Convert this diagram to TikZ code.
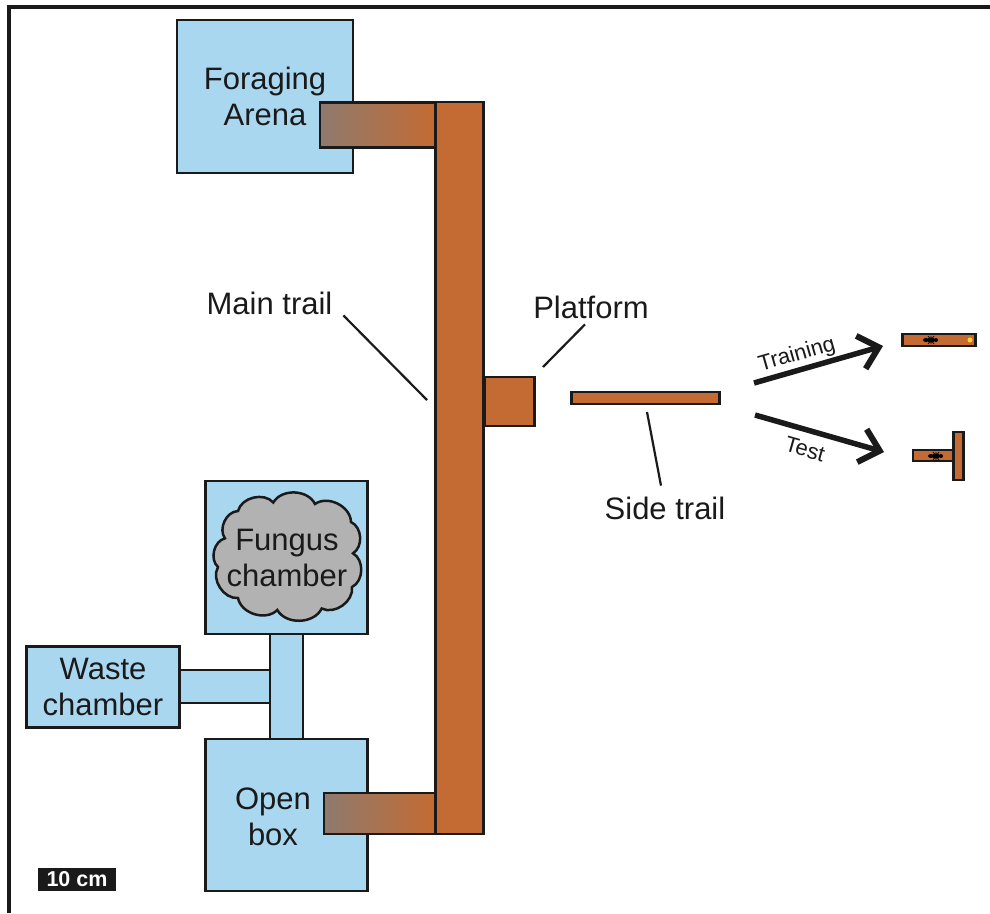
\documentclass[tikz,border=0pt]{standalone}
\usepackage{fontspec}
\setmainfont{Liberation Sans}
\usetikzlibrary{arrows.meta}
\definecolor{arInk}{HTML}{1A1A1A}
\definecolor{arBlue}{HTML}{AAD7F0}
\definecolor{arTrail}{HTML}{C46B33}
\definecolor{arFade}{HTML}{8E7A6E}
\definecolor{arGrey}{HTML}{B2B2B2}
\definecolor{arBait}{HTML}{F5D232}
\tikzset{
  box/.style={
    draw=arInk, line width=2.6pt, fill=arBlue, inner sep=0pt, outer sep=0pt,
    align=center, text=arInk, font=\fontsize{31}{36}\selectfont
  },
  trail/.style={box, fill=arTrail},
  fadetrail/.style={box, left color=arFade, right color=arTrail},
  lbl/.style={inner sep=0pt, outer sep=0pt, align=center, text=arInk,
    font=\fontsize{31}{36}\selectfont},
  small/.style={lbl, font=\fontsize{22}{26}\selectfont},
  leader/.style={line width=2.2pt, draw=arInk},
  flow/.style={-{Straight Barb[length=6.5mm, width=12mm, line width=6pt]}, line width=5.5pt, draw=arInk},
  puff/.style={bend left=62},
}
\newcommand{\antmark}[1]{%
  \begin{scope}[shift={#1}]
    \fill[black] (-5,0) ellipse (3 and 2) (0,0) ellipse (4 and 2.5) (5,0) circle (2);
    \draw[black, line width=.7pt] (-3,-4) -- (3,4) (3,-4) -- (-3,4) (0,-4) -- (0,4);
  \end{scope}}
\begin{document}
\begin{tikzpicture}[x=1pt, y=-1pt]
  \useasboundingbox (0,0) rectangle (990,913);
  % frame
  \draw[line width=4pt, draw=arInk] (990,7) -- (9,7) -- (9,913);
  % colony boxes
  \node[box, minimum width=176pt, minimum height=153pt] (arena) at (265,96.5) {Foraging\\Arena};
  \node[box, minimum width=33pt, minimum height=105pt] (neck) at (286.5,686.5) {};
  \node[box, minimum width=90pt, minimum height=33pt] (link) at (225,686.5) {};
  \node[box, minimum width=153pt, minimum height=81pt] (waste) at (103,687) {Waste\\chamber};
  \node[box, minimum width=162pt, minimum height=153pt] (fungusbox) at (286.5,557.5) {};
  \node[box, minimum width=162pt, minimum height=152pt] (openbox) at (286.5,815) {};
  \draw[line width=2.5pt, draw=arInk, fill=arGrey]
    (273.3,502.5) to[puff] (315,504) to[puff] (351,522) to[puff] (353,553.3)
    to[puff] (352,587) to[puff] (321.7,608.5) to[puff] (277.3,610)
    to[puff] (238,598) to[puff] (218,567) to[puff] (225,538.3)
    to[puff] (238,511) to[puff] cycle;
  \node[lbl] (fungus) at (287,558) {Fungus\\chamber};
  \node[lbl] (openlbl) at (273,817) {Open\\box};
  % trails
  \node[trail, minimum width=48.5pt, minimum height=732pt] (main) at (459.5,468) {};
  \node[fadetrail, minimum width=115pt, minimum height=45.5pt] (upper) at (377.5,125) {};
  \node[fadetrail, minimum width=111pt, minimum height=41pt] (lower) at (379.5,813.5) {};
  \node[trail, minimum width=50.5pt, minimum height=49pt] (platform) at (509.5,401.5) {};
  \node[trail, minimum width=148.5pt, minimum height=12pt] (side) at (645.5,398) {};
  % labels
  \node[lbl] (mainlbl) at (269.5,303) {Main trail};
  \node[lbl] (platlbl) at (591,307) {Platform};
  \node[lbl] (sidelbl) at (665,508) {Side trail};
  \coordinate (mainend) at (427,400);
  \coordinate (platend) at (543,367);
  \coordinate (sideend) at (647,412);
  \draw[leader] ([xshift=11pt, yshift=-1pt]mainlbl.south east) -- (mainend);
  \draw[leader] ([xshift=-6pt, yshift=-6pt]platlbl.south) -- (platend);
  \draw[leader] ([xshift=-4pt, yshift=11pt]sidelbl.north) -- (sideend);
  % experiments
  \coordinate (trainfrom) at (754,383);
  \coordinate (trainto) at (883,346);
  \coordinate (testfrom) at (755,415);
  \coordinate (testto) at (884,452);
  \draw[flow] (trainfrom) -- (trainto);
  \draw[flow] (testfrom) -- (testto);
  \node[small, rotate=16] (trainlbl) at (797,355) {Training};
  \node[small, rotate=-16] (testlbl) at (805,449) {Test};
  \node[trail, minimum width=73.5pt, minimum height=12pt] (trainbar) at (939,340) {};
  \antmark{(931,340)}
  \fill[arBait] (970,340) circle (2.5);
  \node[trail, minimum width=40pt, minimum height=11pt] (teststem) at (933,455.5) {};
  \node[trail, minimum width=10.5pt, minimum height=48pt] (testbar) at (958.5,456) {};
  \antmark{(936,456)}
  % scale
  \node[fill=arInk, text=white, inner sep=0pt, minimum width=78pt, minimum height=23pt,
    font=\fontsize{21.5}{24}\selectfont\bfseries] (scalebar) at (77,879.5) {10 cm};
\end{tikzpicture}
\end{document}
